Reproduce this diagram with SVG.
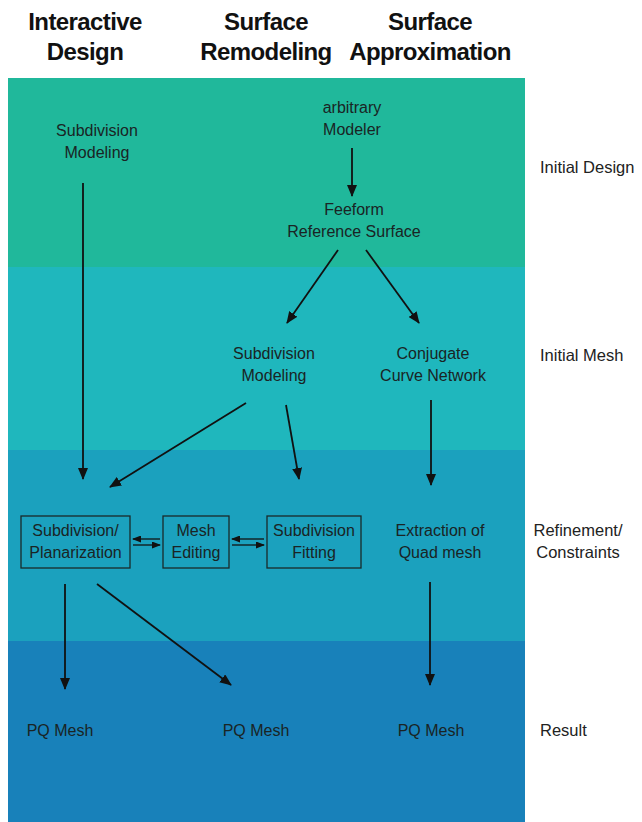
<svg xmlns="http://www.w3.org/2000/svg" width="642" height="822" viewBox="0 0 642 822">
<style>
.h{font-family:"Liberation Sans",Arial,sans-serif;font-weight:bold;font-size:24px;letter-spacing:-0.6px;fill:#111;text-anchor:middle}
.t{font-family:"Liberation Sans",Arial,sans-serif;font-size:16px;fill:#1a2424;text-anchor:middle}
.r{font-family:"Liberation Sans",Arial,sans-serif;font-size:16.5px;fill:#222;}
.box{fill:none;stroke:#1a2a2a;stroke-width:1.3}
.c{stroke:#111;stroke-width:1.8;fill:none;marker-end:url(#ah)}
.s{stroke:#111;stroke-width:1.3;fill:none;marker-end:url(#sh)}
</style>
<defs>
<marker id="ah" markerWidth="12" markerHeight="10" refX="11" refY="5" orient="auto" markerUnits="userSpaceOnUse">
<path d="M0,0 L12,5 L0,10 Z" fill="#111"/>
</marker>
<marker id="sh" markerWidth="9" markerHeight="7" refX="8" refY="3.5" orient="auto" markerUnits="userSpaceOnUse">
<path d="M0,0 L9,3.5 L0,7 Z" fill="#111"/>
</marker>
</defs>
<rect width="642" height="822" fill="#ffffff"/>
<g id="bands">
<rect x="8" y="78" width="517" height="189" fill="#20b89b"/>
<rect x="8" y="267" width="517" height="183" fill="#1fb7bd"/>
<rect x="8" y="450" width="517" height="191" fill="#1ba1be"/>
<rect x="8" y="641" width="517" height="181" fill="#1881ba"/>
</g>
<g id="headers">
<text class="h" x="85" y="30">Interactive</text>
<text class="h" x="85" y="60">Design</text>
<text class="h" x="266" y="30">Surface</text>
<text class="h" x="266" y="60">Remodeling</text>
<text class="h" x="430" y="30">Surface</text>
<text class="h" x="430" y="60">Approximation</text>
</g>
<g id="stages">
<text class="r" x="540" y="173">Initial Design</text>
<text class="r" x="540" y="361">Initial Mesh</text>
<text class="r" x="578" y="536" text-anchor="middle">Refinement/</text>
<text class="r" x="578" y="558" text-anchor="middle">Constraints</text>
<text class="r" x="540" y="736">Result</text>
</g>
<g id="n-subdiv-left"><text class="t" x="97" y="136">Subdivision</text><text class="t" x="97" y="158">Modeling</text></g>
<g id="n-arbitrary"><text class="t" x="352" y="113">arbitrary</text><text class="t" x="352" y="135">Modeler</text></g>
<g id="n-freeform"><text class="t" x="354" y="215">Feeform</text><text class="t" x="354" y="237">Reference Surface</text></g>
<g id="n-subdiv-mid"><text class="t" x="274" y="359">Subdivision</text><text class="t" x="274" y="381">Modeling</text></g>
<g id="n-conjugate"><text class="t" x="433" y="359">Conjugate</text><text class="t" x="433" y="381">Curve Network</text></g>
<g id="n-planarization"><rect class="box" x="21" y="516" width="109" height="52"/><text class="t" x="75.5" y="536">Subdivision/</text><text class="t" x="75.5" y="558">Planarization</text></g>
<g id="n-mesh-editing"><rect class="box" x="163" y="516" width="66" height="52"/><text class="t" x="196" y="536">Mesh</text><text class="t" x="196" y="558">Editing</text></g>
<g id="n-fitting"><rect class="box" x="267" y="516" width="94" height="52"/><text class="t" x="314" y="536">Subdivision</text><text class="t" x="314" y="558">Fitting</text></g>
<g id="n-extraction"><text class="t" x="440" y="536">Extraction of</text><text class="t" x="440" y="558">Quad mesh</text></g>
<g id="n-pq1"><text class="t" x="60" y="736">PQ Mesh</text></g>
<g id="n-pq2"><text class="t" x="256" y="736">PQ Mesh</text></g>
<g id="n-pq3"><text class="t" x="431" y="736">PQ Mesh</text></g>
<g id="connectors">
<line class="c" x1="83" y1="183" x2="83" y2="479"/>
<line class="c" x1="352" y1="148" x2="352" y2="196"/>
<line class="c" x1="338" y1="250" x2="287" y2="323"/>
<line class="c" x1="366" y1="250" x2="419" y2="323"/>
<line class="c" x1="246" y1="403" x2="110" y2="487"/>
<line class="c" x1="286" y1="405" x2="299" y2="479"/>
<line class="c" x1="431" y1="400" x2="431" y2="485"/>
<line class="s" x1="160" y1="539" x2="133" y2="539"/>
<line class="s" x1="133" y1="545" x2="160" y2="545"/>
<line class="s" x1="264" y1="539" x2="232" y2="539"/>
<line class="s" x1="232" y1="545" x2="264" y2="545"/>
<line class="c" x1="65" y1="584" x2="65" y2="689"/>
<line class="c" x1="97" y1="584" x2="231" y2="685"/>
<line class="c" x1="430" y1="582" x2="430" y2="685"/>
</g>
</svg>
